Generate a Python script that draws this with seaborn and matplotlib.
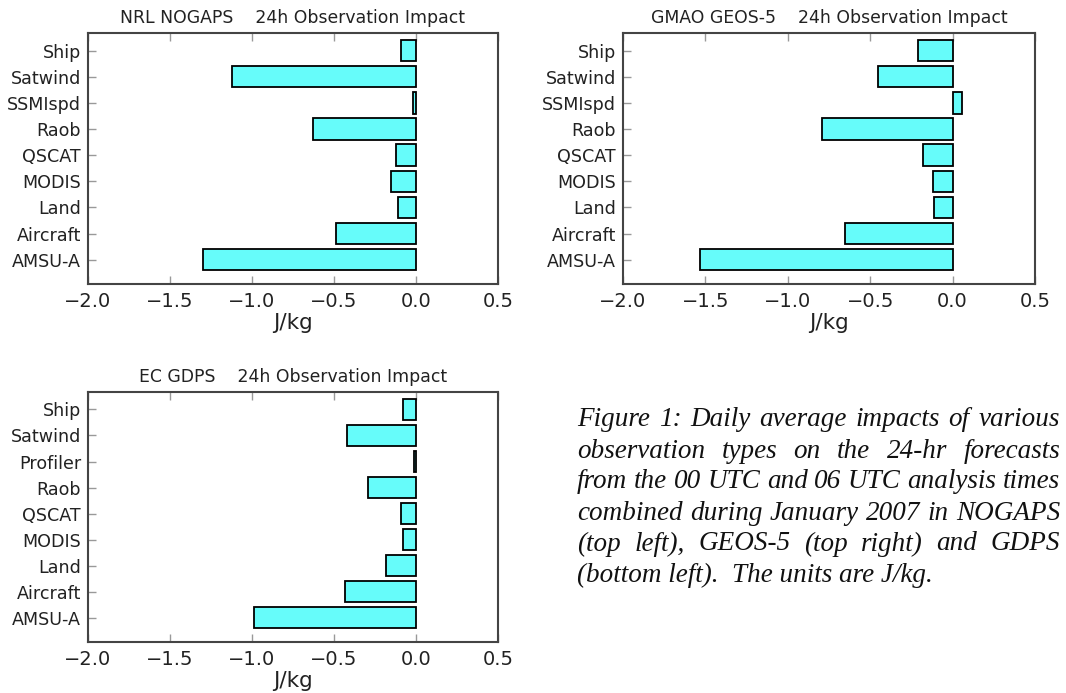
import pandas as pd
import matplotlib
matplotlib.use('Agg')
import matplotlib.pyplot as plt
import seaborn as sns

# Observation types and 24h impacts (J/kg)
obs_nogaps = ['Ship', 'Satwind', 'SSMIspd', 'Raob', 'QSCAT', 'MODIS', 'Land', 'Aircraft', 'AMSU-A']
impact_nogaps = [-0.09, -1.12, -0.02, -0.63, -0.12, -0.15, -0.11, -0.49, -1.30]

obs_geos = ['Ship', 'Satwind', 'SSMIspd', 'Raob', 'QSCAT', 'MODIS', 'Land', 'Aircraft', 'AMSU-A']
impact_geos = [-0.21, -0.45, 0.06, -0.79, -0.18, -0.12, -0.11, -0.65, -1.53]

obs_gdps = ['Ship', 'Satwind', 'Profiler', 'Raob', 'QSCAT', 'MODIS', 'Land', 'Aircraft', 'AMSU-A']
impact_gdps = [-0.08, -0.42, -0.01, -0.29, -0.09, -0.08, -0.18, -0.43, -0.99]

titles = ['NRL NOGAPS    24h Observation Impact',
          'GMAO GEOS-5    24h Observation Impact',
          'EC GDPS    24h Observation Impact']
xticks = [-2.0, -1.5, -1.0, -0.5, 0.0, 0.5]

caption_lines = [
    'Figure 1:  Daily average impacts of various',
    'observation types on the 24-hr forecasts',
    'from the 00 UTC and 06 UTC analysis times',
    'combined during January 2007 in NOGAPS',
    '(top left), GEOS-5 (top right) and GDPS',
    '(bottom left).  The units are J/kg.',
]

sns.set_style('white')
plt.rcParams['font.family'] = ['DejaVu Sans']

W, H = 1066, 693
fig = plt.figure(figsize=(W / 100, H / 100), dpi=100)

# axes boxes in pixels: left, top, right, bottom
boxes = [(88, 33, 498, 284), (623, 33, 1035, 284), (88, 392, 498, 642)]
panels = [(obs_nogaps, impact_nogaps), (obs_geos, impact_geos), (obs_gdps, impact_gdps)]

for (l, t, r, b), (obs, vals), title in zip(boxes, panels, titles):
    ax = fig.add_axes([l / W, 1 - b / H, (r - l) / W, (b - t) / H])
    df = pd.DataFrame({'obs': obs, 'impact': vals})
    sns.barplot(data=df, x='impact', y='obs', orient='h', color='#66fcfa',
                saturation=1, edgecolor='black', linewidth=1.3, width=0.82, ax=ax)
    ax.set_xlim(-2.0, 0.5)
    ax.set_ylim(8.93, -0.67)
    ax.set_xticks(xticks)
    ax.set_xticklabels(['\u22122.0', '\u22121.5', '\u22121.0', '\u22120.5', '0.0', '0.5'])
    ax.set_ylabel('')
    ax.set_xlabel('J/kg', fontsize=15.5, color='#222222', labelpad=1)
    ax.set_title(title, fontsize=12.4, color='#222222', pad=7)
    ax.tick_params(axis='x', direction='in', top=True, bottom=True, length=6,
                   width=1, color='#999999', labelsize=14, labelcolor='#222222', pad=6)
    ax.tick_params(axis='y', direction='in', left=True, right=False, length=6,
                   width=1, color='#999999', labelsize=12.6, labelcolor='#222222', pad=5)
    for s in ax.spines.values():
        s.set_color('#444444')
        s.set_linewidth(1.5)

# justified italic caption on the right
fig.canvas.draw()
renderer = fig.canvas.get_renderer()
x_left, x_right = 577, 1060
cap_kw = dict(fontsize=19.5, style='italic', family='Liberation Serif',
              color='#111111', va='center', ha='left')
for i, line in enumerate(caption_lines):
    y = 1 - (420 + 31 * i) / H
    if i == len(caption_lines) - 1:
        fig.text(x_left / W, y, line, **cap_kw)
        continue
    words = line.split()
    texts = [fig.text(0, y, w, **cap_kw) for w in words]
    widths = [t.get_window_extent(renderer).width for t in texts]
    gap = (x_right - x_left - sum(widths)) / (len(words) - 1)
    pos = x_left
    for t, w in zip(texts, widths):
        t.set_x(pos / W)
        pos += w + gap

fig.savefig('out.png', dpi=100)
